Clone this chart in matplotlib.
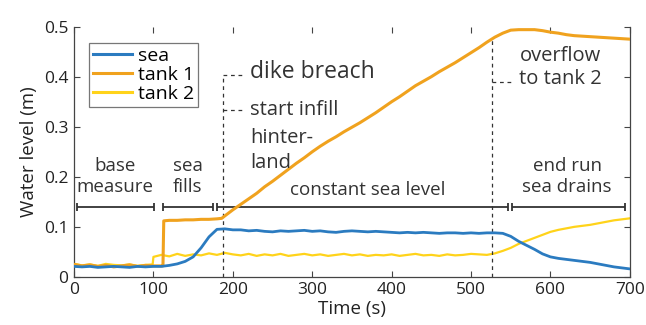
import matplotlib
matplotlib.use("Agg")
import matplotlib.pyplot as plt

plt.rcParams['font.family'] = ['Open Sans', 'DejaVu Sans']

# ---- data ----
t_sea = [0, 10, 20, 30, 40, 50, 60, 70, 80, 90, 100, 110,
         120, 130, 140, 150, 160, 170, 180, 190, 200, 210, 220, 230, 240,
         250, 260, 270, 280, 290, 300, 310, 320, 330, 340, 350, 360, 370,
         380, 390, 400, 410, 420, 430, 440, 450, 460, 470, 480, 490, 500,
         510, 520, 530, 540, 550, 560, 570, 580, 590, 600, 610, 620, 630,
         640, 650, 660, 670, 680, 690, 700]
sea = [0.021, 0.020, 0.021, 0.019, 0.020, 0.021, 0.020, 0.019, 0.021, 0.020, 0.021, 0.021,
       0.023, 0.026, 0.031, 0.040, 0.058, 0.080, 0.095, 0.096, 0.094, 0.094, 0.092, 0.093, 0.091,
       0.090, 0.092, 0.091, 0.092, 0.093, 0.091, 0.092, 0.090, 0.089, 0.091, 0.092, 0.091, 0.090,
       0.091, 0.090, 0.089, 0.088, 0.089, 0.088, 0.089, 0.088, 0.087, 0.088, 0.088, 0.087, 0.088,
       0.087, 0.088, 0.088, 0.087, 0.081, 0.071, 0.063, 0.055, 0.046, 0.040, 0.037, 0.035, 0.033,
       0.031, 0.029, 0.026, 0.023, 0.020, 0.018, 0.016]

t_tank1 = [0, 10, 20, 30, 40, 50, 60, 70, 80, 90, 100, 110, 112, 113,
           120, 130, 140, 150, 160, 170, 180, 186, 190, 200, 210, 220, 230, 240,
           250, 260, 270, 280, 290, 300, 310, 320, 330, 340, 350, 360, 370,
           380, 390, 400, 410, 420, 430, 440, 450, 460, 470, 480, 490, 500,
           510, 520, 530, 540, 550, 560, 570, 580, 590, 600, 610, 620, 630,
           640, 650, 660, 670, 680, 690, 700]
tank1 = [0.025, 0.022, 0.024, 0.021, 0.023, 0.020, 0.022, 0.024, 0.021, 0.023, 0.022, 0.022, 0.022, 0.112,
         0.113, 0.113, 0.114, 0.114, 0.115, 0.115, 0.116, 0.117, 0.122, 0.134, 0.145, 0.156, 0.167, 0.180,
         0.191, 0.203, 0.215, 0.227, 0.238, 0.250, 0.261, 0.271, 0.280, 0.290, 0.299, 0.308, 0.318,
         0.328, 0.339, 0.350, 0.360, 0.371, 0.382, 0.391, 0.400, 0.410, 0.419, 0.428, 0.438, 0.448,
         0.458, 0.469, 0.479, 0.487, 0.493, 0.494, 0.494, 0.494, 0.492, 0.489, 0.487, 0.484, 0.482,
         0.481, 0.480, 0.479, 0.478, 0.477, 0.476, 0.475]

t_tank2 = [0, 10, 20, 30, 40, 50, 60, 70, 80, 90, 99, 100, 110,
           120, 130, 140, 150, 160, 170, 180, 190, 200, 210, 220, 230, 240,
           250, 260, 270, 280, 290, 300, 310, 320, 330, 340, 350, 360, 370,
           380, 390, 400, 410, 420, 430, 440, 450, 460, 470, 480, 490, 500,
           510, 520, 530, 540, 550, 560, 570, 580, 590, 600, 610, 620, 630,
           640, 650, 660, 670, 680, 690, 700]
tank2 = [0.026, 0.023, 0.025, 0.022, 0.026, 0.024, 0.023, 0.025, 0.022, 0.024, 0.025, 0.040, 0.044,
         0.041, 0.046, 0.042, 0.045, 0.043, 0.047, 0.044, 0.048, 0.045, 0.043, 0.046, 0.042, 0.045,
         0.043, 0.046, 0.042, 0.044, 0.046, 0.043, 0.045, 0.042, 0.044, 0.046, 0.043, 0.045, 0.042,
         0.044, 0.043, 0.045, 0.042, 0.044, 0.046, 0.043, 0.044, 0.042, 0.045, 0.043, 0.044, 0.046,
         0.045, 0.044, 0.047, 0.052, 0.058, 0.066, 0.072, 0.078, 0.084, 0.090, 0.094, 0.097, 0.100,
         0.102, 0.104, 0.107, 0.110, 0.113, 0.115, 0.117]

# phase intervals (bars at y = 0.14)
phase_start = [4, 112, 180, 551]
phase_end = [101, 175, 546, 694]
phase_x = [52, 143, 370, 621]
phase_labels = ['base\nmeasure', 'sea\nfills', 'constant sea level', 'end run\nsea drains']
phase_y = [0.2, 0.2, 0.173, 0.2]

breach_t = 187
overflow_t = 526

blue = '#2B7BC0'
orange = '#F0A21E'
yellow = '#FFD31A'
ink = '#333333'

fig = plt.figure(figsize=(6.46, 3.25), dpi=100)
ax = fig.add_axes([0.1146, 0.148, 0.8604, 0.770])

ax.plot(t_sea, sea, color=blue, lw=2.0, label='sea', zorder=4)
ax.plot(t_tank1, tank1, color=orange, lw=2.2, label='tank 1', zorder=3)
ax.plot(t_tank2, tank2, color=yellow, lw=1.6, label='tank 2', zorder=2)

# phase bars with end caps
bar_y = 0.139
ax.hlines([bar_y] * len(phase_start), phase_start, phase_end, color=ink, lw=1.3)
ax.vlines(phase_start + phase_end, bar_y - 0.008, bar_y + 0.008, color=ink, lw=1.3)
for x, lab, y in zip(phase_x, phase_labels, phase_y):
    ax.text(x, y, lab, ha='center', va='center', fontsize=13.5, color=ink,
            linespacing=1.2)

# dike breach markers
dash = dict(color=ink, lw=0.9, ls=(0, (3, 3)))
ax.plot([breach_t, breach_t], [0, 0.403], **dash)
ax.plot([breach_t, 215], [0.403, 0.403], **dash)
ax.plot([breach_t, 215], [0.333, 0.333], **dash)
ax.text(222, 0.41, 'dike breach', fontsize=16.5, color=ink, va='center', ha='left')
ax.text(222, 0.333, 'start infill', fontsize=14.5, color=ink, va='center', ha='left')
ax.text(222, 0.277, 'hinter-', fontsize=14.5, color=ink, va='center', ha='left')
ax.text(222, 0.227, 'land', fontsize=14.5, color=ink, va='center', ha='left')

# overflow markers
ax.plot([overflow_t, overflow_t], [0, 0.477], **dash)
ax.plot([overflow_t, 550], [0.389, 0.389], **dash)
ax.text(561, 0.418, 'overflow\nto tank 2', fontsize=14.5, color=ink, va='center', ha='left',
        linespacing=1.2)

ax.set_xlim(0, 700)
ax.set_ylim(0, 0.5)
ax.set_xticks([0, 100, 200, 300, 400, 500, 600, 700])
ax.set_yticks([0, 0.1, 0.2, 0.3, 0.4, 0.5])
ax.set_yticklabels(['0', '0.1', '0.2', '0.3', '0.4', '0.5'])
ax.tick_params(direction='in', length=4, width=0.8, color='#444444',
               top=True, right=True, labelsize=12.5, labelcolor='#222222', pad=4)
for side in ['left', 'right', 'bottom']:
    ax.spines[side].set_color('#444444')
    ax.spines[side].set_linewidth(0.9)
ax.spines['top'].set_visible(False)

ax.set_xlabel('Time (s)', fontsize=13.5, color='#222222', labelpad=1)
ax.set_ylabel('Water level (m)', fontsize=13.5, color='#222222', labelpad=4)

leg = ax.legend(loc='upper left', bbox_to_anchor=(0.027, 0.935), fontsize=14,
                frameon=True, fancybox=False, handlelength=2.0, handletextpad=0.3,
                borderpad=0.2, labelspacing=0.05, borderaxespad=0)
leg.get_frame().set_edgecolor('#555555')
leg.get_frame().set_linewidth(0.9)
for h in leg.legend_handles:
    h.set_linewidth(2.2)

fig.savefig('out.png', dpi=100)
